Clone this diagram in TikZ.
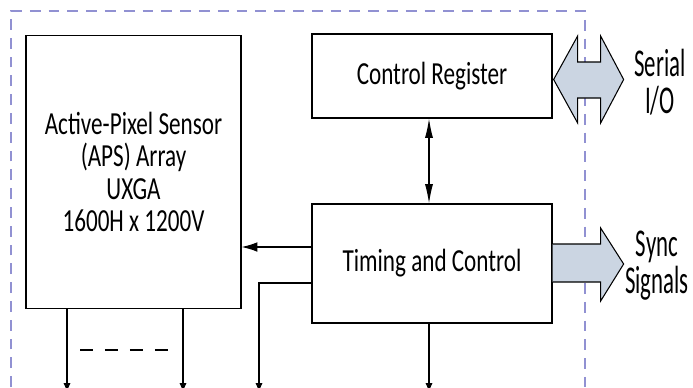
\documentclass[tikz,border=0pt]{standalone}
\usepackage{fontspec}
\setmainfont[FakeStretch=0.72]{Carlito}
\newfontfamily\tallfont[FakeStretch=0.58]{Carlito}
\usetikzlibrary{arrows.meta}
\definecolor{busfill}{RGB}{203,213,226}
\definecolor{chipedge}{RGB}{145,145,210}

\begin{document}
\begin{tikzpicture}[x=0.02cm,y=-0.02cm,
  blk/.style={draw,line width=0.75pt,align=center,inner sep=0pt,font=\fontsize{18.3}{18.4}\selectfont},
  sig/.style={line width=0.6pt},
  outtip/.style={sig,-{Latex[length=5pt,width=4pt]}},
  bigarrow/.style={draw,line width=0.6pt,fill=busfill,line join=miter},
  outlbl/.style={align=center,font=\tallfont\fontsize{22.4}{21}\selectfont}]
\clip (0,0) rectangle (693,387);
\draw[chipedge,line width=0.7pt,dash pattern=on 6.2pt off 4.5pt] (11,387)--(11,11)--(585,11)--(585,387);
\node[blk,minimum width=4.3cm,minimum height=5.46cm] (aps) at (133.5,172) {Active-Pixel Sensor\\(APS) Array\\UXGA\\1600H x 1200V};
\node[blk,minimum width=4.8cm,minimum height=1.68cm] (cr) at (432,76) {Control Register};
\node[blk,minimum width=4.8cm,minimum height=2.38cm] (tc) at (432,263.5) {Timing and Control};
\draw[bigarrow] (cr.east) ++(1,3.5) -- ++(24,-43.5) -- ++(0,26) -- ++(23,0) -- ++(0,-26) -- ++(23,43.5) -- ++(-23,43.5) -- ++(0,-25) -- ++(-23,0) -- ++(0,25) -- cycle;
\draw[bigarrow] (tc.east) ++(0,-19.5) -- ++(48,0) -- ++(0,-16) -- ++(23,36) -- ++(-23,37) -- ++(0,-19) -- ++(-48,0);
\node[outlbl] (serial) at (660,82) {Serial\\I/O};
\node[outlbl] (sync) at (657,266) {Sync\\Signals};
\coordinate (bus) at (429,0);
\coordinate (clk) at (312,247);
\coordinate (rd) at (312,283);
\coordinate (o1) at (67,392);
\coordinate (o2) at (183,392);
\coordinate (o3) at (259,392);
\draw[sig,{Latex[length=11pt,width=4.6pt]}-{Latex[length=11pt,width=4.6pt]}] (cr.south -| bus) -- (tc.north -| bus);
\draw[sig,-{Latex[length=9pt,width=5.5pt]}] (clk) -- (clk -| aps.east);
\foreach \o in {o1,o2} \draw[outtip] (aps.south -| \o) -- (\o);
\draw[outtip] (rd) -| (o3);
\draw[outtip] (tc.south -| bus) -- (bus |- o3);
\draw[line width=0.8pt,dash pattern=on 7.4pt off 6.8pt] (80,350) -- (168,350);
\end{tikzpicture}
\end{document}
